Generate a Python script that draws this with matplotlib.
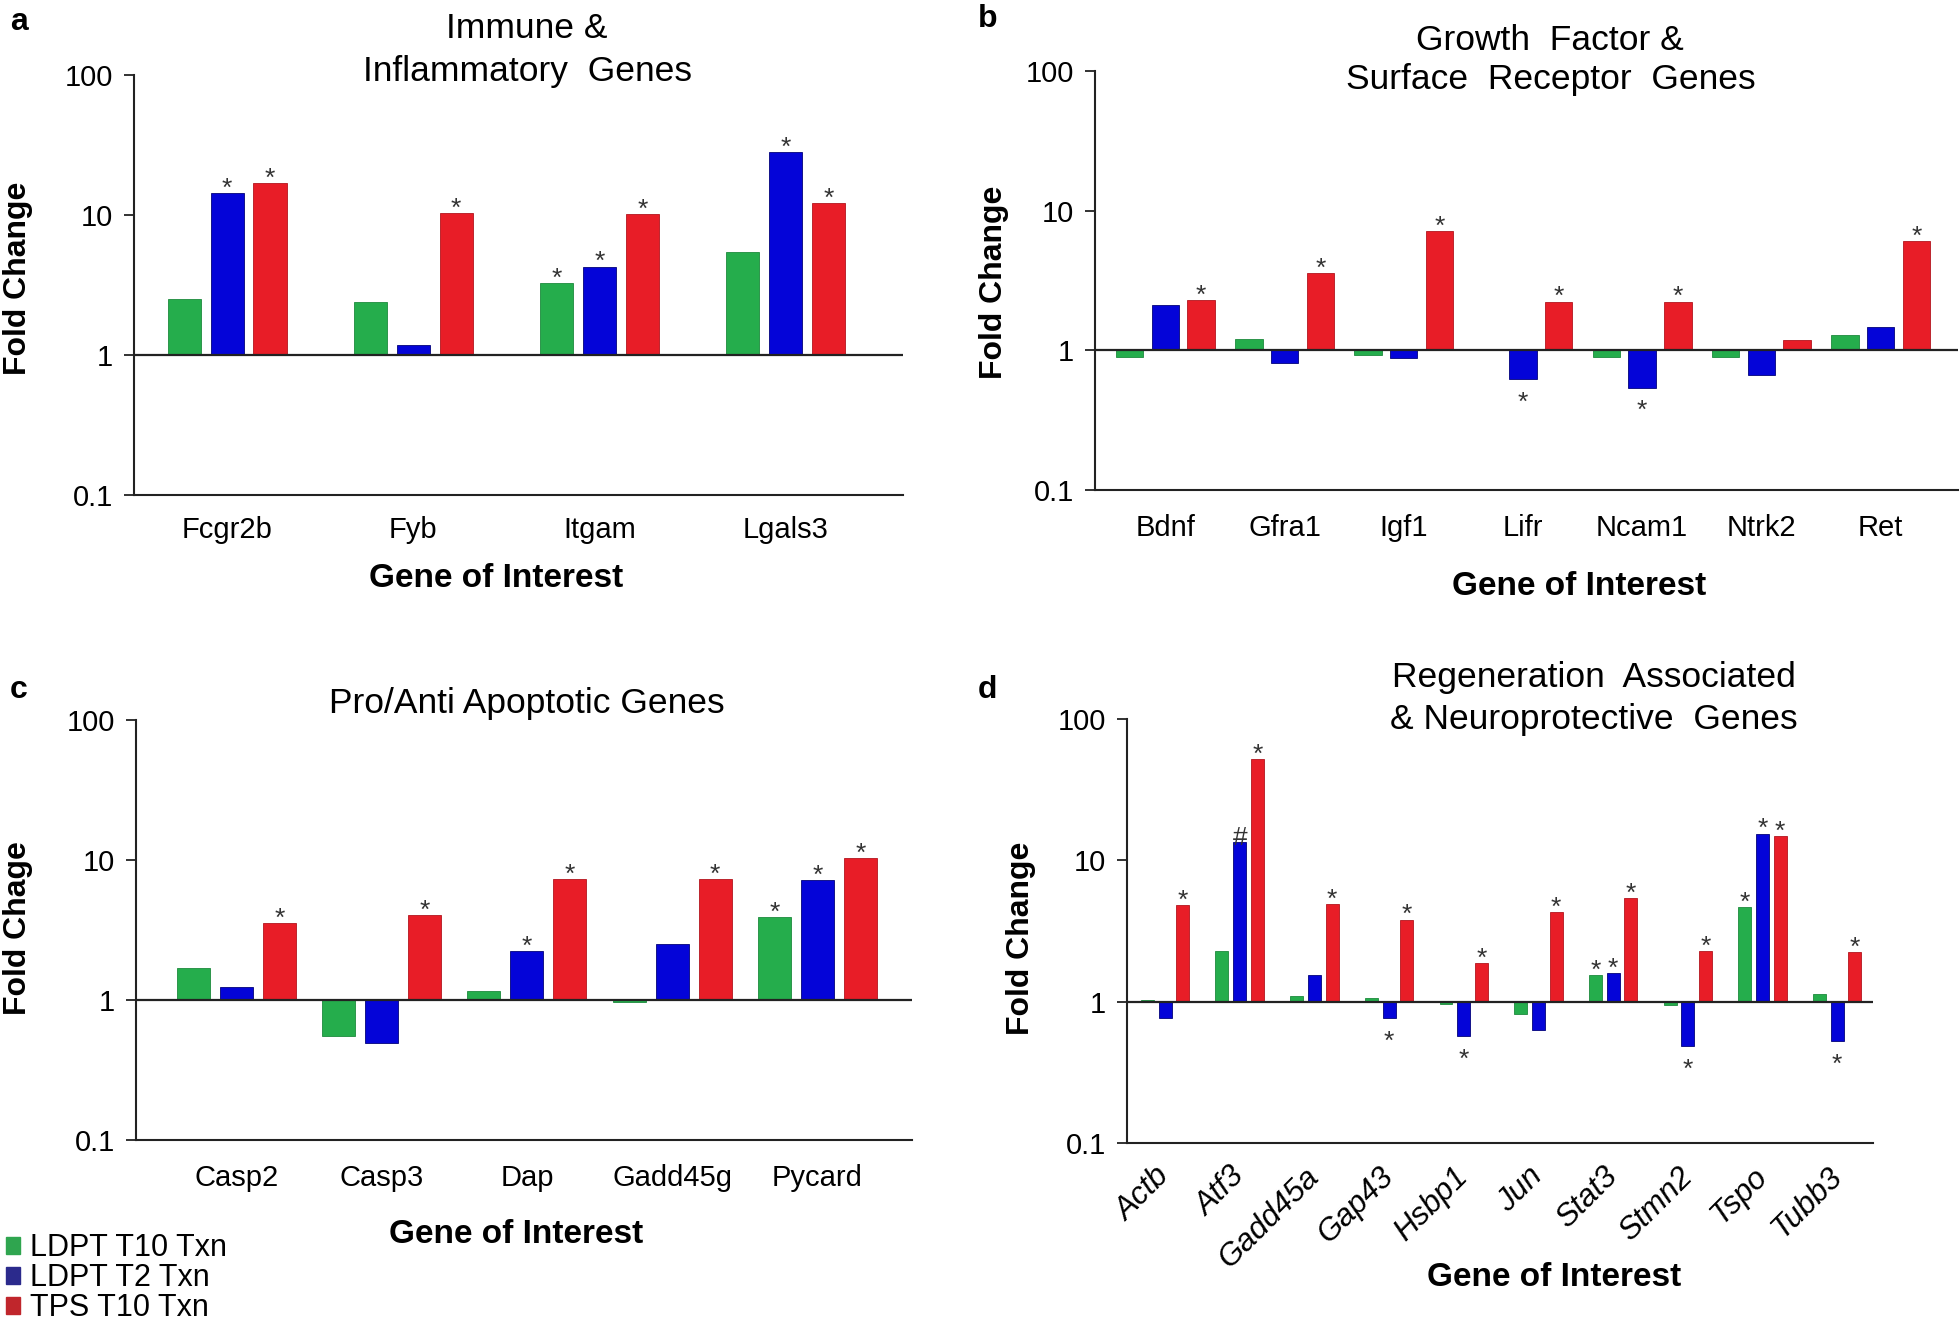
import matplotlib
matplotlib.use("Agg")
import numpy as np
import matplotlib.pyplot as plt
from matplotlib.patches import Patch

matplotlib.rcParams['font.family'] = ['Liberation Sans', 'DejaVu Sans']

series_names = ["LDPT T10 Txn", "LDPT T2 Txn", "TPS T10 Txn"]
bar_colors = ["#25ad4c", "#0404d8", "#e81d27"]
edge_colors = ["#1d8a3c", "#02027a", "#b3151d"]
legend_colors = ["#2fa54f", "#2b2a8c", "#c0262c"]

# a: immune & inflammatory
a_genes = ["Fcgr2b", "Fyb", "Itgam", "Lgals3"]
a_t10 = [2.53, 2.40, 3.26, 5.40]
a_t2 = [14.4, 1.17, 4.28, 28.0]
a_tps = [17.0, 10.3, 10.1, 12.2]
a_marks = [["", "", "*", ""],
           ["*", "", "*", "*"],
           ["*", "*", "*", "*"]]

# b: growth factor & surface receptor
b_genes = ["Bdnf", "Gfra1", "Igf1", "Lifr", "Ncam1", "Ntrk2", "Ret"]
b_t10 = [0.90, 1.21, 0.93, 1.02, 0.90, 0.90, 1.30]
b_t2 = [2.13, 0.81, 0.88, 0.62, 0.54, 0.67, 1.46]
b_tps = [2.30, 3.56, 7.13, 2.24, 2.24, 1.18, 6.10]
b_marks = [["", "", "", "", "", "", ""],
           ["", "", "", "*", "*", "", ""],
           ["*", "*", "*", "*", "*", "", "*"]]

# c: pro/anti apoptotic
c_genes = ["Casp2", "Casp3", "Dap", "Gadd45g", "Pycard"]
c_t10 = [1.68, 0.55, 1.15, 0.97, 3.94]
c_t2 = [1.24, 0.49, 2.25, 2.50, 7.14]
c_tps = [3.53, 4.05, 7.33, 7.33, 10.3]
c_marks = [["", "", "", "", "*"],
           ["", "", "*", "", "*"],
           ["*", "*", "*", "*", "*"]]

# d: regeneration associated & neuroprotective
d_genes = ["Actb", "Atf3", "Gadd45a", "Gap43", "Hsbp1", "Jun", "Stat3",
           "Stmn2", "Tspo", "Tubb3"]
d_t10 = [1.03, 2.29, 1.09, 1.06, 0.96, 0.82, 1.54, 0.94, 4.66, 1.13]
d_t2 = [0.76, 13.4, 1.55, 0.76, 0.57, 0.63, 1.58, 0.486, 15.4, 0.527]
d_tps = [4.81, 51.5, 4.92, 3.80, 1.86, 4.32, 5.36, 2.29, 14.9, 2.23]
d_marks = [["", "", "", "", "", "", "*", "", "*", ""],
           ["", "#", "", "*", "*", "", "*", "*", "*", "*"],
           ["*", "*", "*", "*", "*", "*", "*", "*", "*", "*"]]


def draw_panel(ax, genes, values, marks, width, pitch, xlim, star_size=19):
    x = np.arange(len(genes))
    for i, vals in enumerate(values):
        v = np.array(vals)
        xs = x + (i - 1) * pitch
        ax.bar(xs, v - 1, bottom=1, width=width, color=bar_colors[i],
               edgecolor=edge_colors[i], linewidth=0.6, zorder=2)
        for xi, vi, m in zip(xs, v, marks[i]):
            if not m:
                continue
            # marks sit above rising bars, below falling ones
            dy = -2 if vi >= 1 else -22
            ax.annotate(m, (xi, vi), xytext=(0, dy), textcoords="offset points",
                        ha="center", va="baseline", fontsize=star_size,
                        color="#333333")
    ax.axhline(1, color="#222222", lw=1.6, zorder=3)
    ax.set_yscale("log")
    ax.set_ylim(0.1, 100)
    ax.set_xlim(*xlim)
    ax.set_yticks([0.1, 1, 10, 100])
    ax.set_yticklabels(["0.1", "1", "10", "100"])
    ax.minorticks_off()
    ax.set_xticks(x)
    ax.set_xticklabels(genes)
    for s in ["top", "right"]:
        ax.spines[s].set_visible(False)
    for s in ["left", "bottom"]:
        ax.spines[s].set_color("#222222")
        ax.spines[s].set_linewidth(1.5)
    ax.tick_params(axis="y", labelsize=21, length=7, width=1.3, pad=8, color="#222222")
    ax.tick_params(axis="x", labelsize=21, length=0, pad=15)


fig = plt.figure(figsize=(19.6, 13.22), dpi=100)

ax_a = fig.add_axes([0.0684, 0.6256, 0.3923, 0.3177])
ax_b = fig.add_axes([0.5587, 0.6293, 0.4403, 0.3169])
ax_c = fig.add_axes([0.0694, 0.1377, 0.3959, 0.3177])
ax_d = fig.add_axes([0.5750, 0.1354, 0.3806, 0.3210])

draw_panel(ax_a, a_genes, [a_t10, a_t2, a_tps], a_marks, 0.178, 0.23, (-0.5, 3.63))
draw_panel(ax_b, b_genes, [b_t10, b_t2, b_tps], b_marks, 0.23, 0.30, (-0.59, 6.65))
draw_panel(ax_c, c_genes, [c_t10, c_t2, c_tps], c_marks, 0.227, 0.296, (-0.69, 4.65))
draw_panel(ax_d, d_genes, [d_t10, d_t2, d_tps], d_marks, 0.174, 0.238, (-0.51, 9.48))

ax_b.tick_params(axis="x", pad=17)
ax_c.tick_params(axis="x", pad=17)
ax_d.tick_params(axis="x", pad=21, labelsize=22.5)
for lab in ax_d.get_xticklabels():
    lab.set_rotation(45)
    lab.set_ha("right")
    lab.set_va("center")
    lab.set_rotation_mode("anchor")
    lab.set_style("italic")

# axis labels
ylab = dict(fontsize=23, fontweight="bold", rotation=90, va="center", ha="center")
xlab = dict(fontsize=24, fontweight="bold", va="center", ha="center")
ax_a.set_ylabel("Fold Change", **ylab)
ax_a.yaxis.set_label_coords(-0.151, 0.517)
ax_b.set_ylabel("Fold Change", **ylab)
ax_b.yaxis.set_label_coords(-0.117, 0.496)
ax_c.set_ylabel("Fold Chage", **ylab)
ax_c.yaxis.set_label_coords(-0.152, 0.505)
ax_d.set_ylabel("Fold Change", **ylab)
ax_d.yaxis.set_label_coords(-0.142, 0.482)

ax_a.set_xlabel("Gene of Interest", **xlab)
ax_a.xaxis.set_label_coords(0.471, -0.20)
ax_b.set_xlabel("Gene of Interest", **xlab)
ax_b.xaxis.set_label_coords(0.561, -0.229)
ax_c.set_xlabel("Gene of Interest", **xlab)
ax_c.xaxis.set_label_coords(0.49, -0.224)
ax_d.set_xlabel("Gene of Interest", **xlab)
ax_d.xaxis.set_label_coords(0.572, -0.318)

# panel titles
tkw = dict(fontsize=25.5, ha="center", va="center")
fig.text(0.269, 0.962, "Immune &\nInflammatory  Genes", linespacing=1.38, **tkw)
fig.text(0.791, 0.9546, "Growth  Factor &\nSurface  Receptor  Genes", linespacing=1.25, **tkw)
fig.text(0.269, 0.4675, "Pro/Anti Apoptotic Genes", **tkw)
fig.text(0.813, 0.4715, "Regeneration  Associated\n& Neuroprotective  Genes", linespacing=1.36, **tkw)

# panel letters
lkw = dict(fontsize=23, fontweight="bold", ha="center", va="center")
fig.text(0.0097, 0.983, "a", **lkw)
fig.text(0.504, 0.986, "b", **lkw)
fig.text(0.0097, 0.478, "c", **lkw)
fig.text(0.504, 0.478, "d", **lkw)

handles = [Patch(facecolor=c, edgecolor=c) for c in legend_colors]
fig.legend(handles, series_names, loc="lower left", bbox_to_anchor=(0.003, -0.001),
           frameon=False, fontsize=22, handlelength=0.45, handleheight=0.45,
           handletextpad=0.35, labelspacing=0.0, borderpad=0, borderaxespad=0)

fig.savefig("out.png", dpi=100, facecolor="white")
